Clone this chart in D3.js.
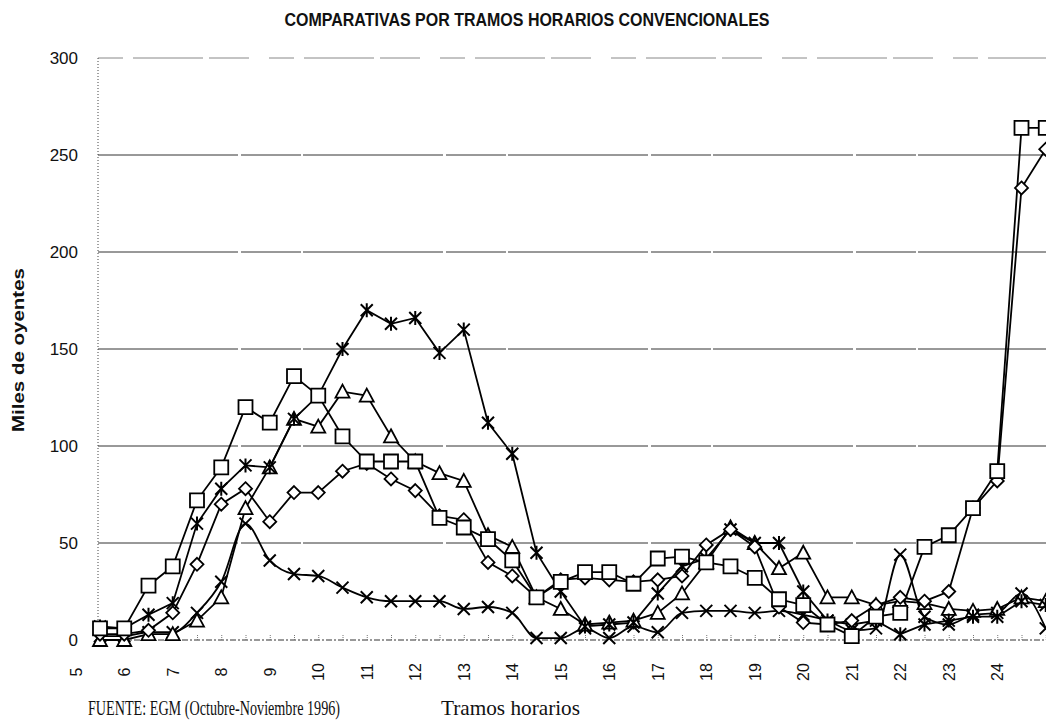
<!DOCTYPE html>
<html><head><meta charset="utf-8">
<script src="https://cdn.jsdelivr.net/npm/d3@7/dist/d3.min.js"></script>
<style>body{margin:0;background:#fff}svg{display:block}</style>
</head><body>
<svg id="c" width="1046" height="724"></svg>
<script>
const hours = [5.5,6,6.5,7,7.5,8,8.5,9,9.5,10,10.5,11,11.5,12,12.5,13,13.5,14,14.5,15,15.5,16,16.5,17,17.5,18,18.5,19,19.5,20,20.5,21,21.5,22,22.5,23,23.5,24,24.5,25];
const tickHours = [5,6,7,8,9,10,11,12,13,14,15,16,17,18,19,20,21,22,23,24];
const tickLabels = ["5","6","7","8","9","10","11","12","13","14","15","16","17","18","19","20","21","22","23","24"];
const yTicks = [0,50,100,150,200,250,300];

const squareValues   = [6,6,28,38,72,89,120,112,136,126,105,92,92,92,63,58,52,41,22,30,35,35,29,42,43,40,38,32,21,18,8,2,12,14,48,54,68,87,264,264];
const diamondValues  = [3,3,5,14,39,70,78,61,76,76,87,91,83,77,64,62,40,33,22,31,32,31,30,31,33,49,57,48,17,9,8,10,18,22,20,25,68,82,233,253];
const asteriskValues = [7,6,13,19,60,78,90,89,114,126,150,170,163,166,148,160,112,96,45,25,7,8,9,24,38,42,57,50,50,25,10,8,10,3,8,10,12,12,20,18];
const triangleValues = [0,0,3,3,10,22,68,89,114,110,128,126,105,92,86,82,54,48,22,16,8,9,10,14,24,40,58,50,37,45,22,22,18,20,19,16,15,16,22,20];
const crossValues    = [2,2,4,4,14,30,60,41,34,33,27,22,20,20,20,16,17,14,1,1,6,1,7,4,14,15,15,14,15,13,10,5,6,44,12,8,13,14,24,6];

const titleText = "COMPARATIVAS POR TRAMOS HORARIOS CONVENCIONALES";
const yTitle = "Miles de oyentes";
const sourceText = "FUENTE: EGM (Octubre-Noviembre 1996)";
const xTitle = "Tramos horarios";

const svg = d3.select("#c");
const x = d3.scaleLinear().domain([5,25]).range([75.75,1045.75]);
const y = d3.scaleLinear().domain([0,300]).range([640,58]);
const plotLeft = 98, plotRight = 1046;

// gridlines
svg.append("g").selectAll("line").data(yTicks.filter(d=>d>0)).join("line")
  .attr("x1", plotLeft).attr("x2", plotRight)
  .attr("y1", d=>y(d)).attr("y2", d=>y(d))
  .attr("stroke", d=> d===300 ? "#888" : "#333")
  .attr("stroke-width", 1)
  .attr("stroke-dasharray", d=> d===300 ? "25,10,70,6,40,20" : "140,3,60,2");

// y axis dotted line
svg.append("line").attr("x1",plotLeft).attr("x2",plotLeft).attr("y1",y(300)).attr("y2",y(0))
  .attr("stroke","#444").attr("stroke-dasharray","1,2");
// x axis line
svg.append("line").attr("x1",plotLeft).attr("x2",plotRight).attr("y1",y(0)).attr("y2",y(0))
  .attr("stroke","#333").attr("stroke-dasharray","6,2,2,2");

// small category ticks
const tickAxis = svg.append("g").attr("transform",`translate(0,${y(0)})`)
  .call(d3.axisBottom(x).tickValues(hours).tickSize(-5).tickFormat(""));
tickAxis.select(".domain").remove();
tickAxis.selectAll("line").attr("stroke","#777").attr("stroke-dasharray","1,1");

// y axis labels
const yAx = svg.append("g").attr("transform",`translate(80,0)`)
  .call(d3.axisLeft(y).tickValues(yTicks).tickSize(0).tickPadding(2));
yAx.select(".domain").remove();
yAx.selectAll("text").attr("font-family","'Liberation Sans',Arial,sans-serif")
  .attr("font-size",17).attr("fill","#111");

// x axis labels
const xAx = svg.append("g").attr("transform",`translate(0,${y(0)})`)
  .call(d3.axisBottom(x).tickValues(tickHours).tickSize(0).tickFormat((d,i)=>tickLabels[i]));
xAx.select(".domain").remove();
xAx.selectAll("text")
  .attr("transform","rotate(-90)")
  .attr("x",-32).attr("y",0).attr("dy","0.35em")
  .attr("text-anchor","middle")
  .attr("font-family","'Liberation Sans',Arial,sans-serif")
  .attr("font-size",16).attr("fill","#111");

// markers
function markerPath(type){
  const s=7;
  switch(type){
    case "square": return `M${-s},${-s}H${s}V${s}H${-s}Z`;
    case "diamond": return `M0,${-6.5}L6.5,0L0,6.5L-6.5,0Z`;
    case "triangle": return `M0,${-7}L7,6L-7,6Z`;
    case "asterisk": return `M-6,-6L6,6M6,-6L-6,6M0,-7L0,7`;
    case "cross": return `M-6,-6L6,6M6,-6L-6,6`;
  }
}
const series = [
  {name:"cross", values:crossValues, curve:d3.curveMonotoneX, fill:"none"},
  {name:"triangle", values:triangleValues, curve:d3.curveLinear, fill:"#fff"},
  {name:"asterisk", values:asteriskValues, curve:d3.curveLinear, fill:"none"},
  {name:"diamond", values:diamondValues, curve:d3.curveLinear, fill:"#fff"},
  {name:"square", values:squareValues, curve:d3.curveLinear, fill:"#fff"}
];
series.forEach(s=>{
  const data = hours.map((h,i)=>({h, v:s.values[i]}));
  svg.append("path").datum(data)
    .attr("fill","none").attr("stroke","#000").attr("stroke-width",1.8)
    .attr("d", d3.line().x(d=>x(d.h)).y(d=>y(d.v)).curve(s.curve));
});
series.forEach(s=>{
  const data = hours.map((h,i)=>({h, v:s.values[i]}));
  svg.append("g").selectAll("path").data(data).join("path")
    .attr("transform",d=>`translate(${x(d.h)},${y(d.v)})`)
    .attr("d", markerPath(s.name))
    .attr("fill", s.fill).attr("stroke","#000")
    .attr("stroke-width", s.name==="asterisk"||s.name==="cross" ? 2 : 1.8);
});

// titles
svg.append("text").attr("x",527).attr("y",26).attr("text-anchor","middle")
  .attr("font-family","'Liberation Sans Narrow','Liberation Sans',Arial,sans-serif")
  .attr("font-weight","bold").attr("font-size",19)
  .attr("textLength",485).attr("lengthAdjust","spacingAndGlyphs").attr("fill","#111")
  .text(titleText);
svg.append("text").attr("transform","translate(24,350) rotate(-90)").attr("text-anchor","middle")
  .attr("font-family","'Liberation Sans',Arial,sans-serif")
  .attr("font-weight","bold").attr("font-size",17)
  .attr("textLength",164).attr("lengthAdjust","spacingAndGlyphs").attr("fill","#111")
  .text(yTitle);
svg.append("text").attr("x",88).attr("y",715)
  .attr("font-family","'Liberation Serif','DejaVu Serif',serif").attr("font-size",20)
  .attr("textLength",252).attr("lengthAdjust","spacingAndGlyphs").attr("fill","#111")
  .text(sourceText);
svg.append("text").attr("x",441).attr("y",715)
  .attr("font-family","'Liberation Serif','DejaVu Serif',serif").attr("font-size",21)
  .attr("textLength",139).attr("lengthAdjust","spacingAndGlyphs").attr("fill","#111")
  .text(xTitle);
</script>
</body></html>
